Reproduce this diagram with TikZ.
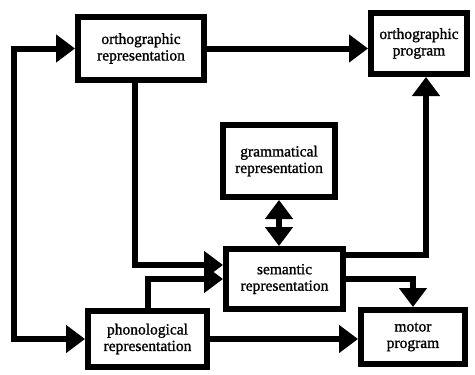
\documentclass[tikz,border=0pt]{standalone}
\usepackage{fontspec}
\setmainfont{Liberation Serif}[AutoFakeBold=1.2]
\usetikzlibrary{arrows.meta}
\begin{document}
\begin{tikzpicture}[x=1pt,y=-1pt,
  stage/.style={draw,line width=6pt,align=center,inner sep=0pt,
    font=\fontsize{15.5}{16.5}\selectfont\bfseries},
  link/.style={line width=6pt,-{Triangle[length=19pt,width=27pt]}},
  twoway/.style={line width=6pt,{Triangle[length=19pt,width=27pt]}-{Triangle[length=19pt,width=27pt]}}]
\useasboundingbox (0,0) rectangle (475,375);
% modules
\node[stage,minimum width=126pt,minimum height=63pt] (orep) at (141,48.5) {orthographic\\representation};
\node[stage,minimum width=96pt,minimum height=61pt] (oprog) at (419,43.5) {orthographic\\program};
\node[stage,minimum width=112pt,minimum height=72pt] (gram) at (279,161) {grammatical\\representation};
\node[stage,minimum width=117pt,minimum height=60pt] (sem) at (284.5,279) {semantic\\representation};
\node[stage,minimum width=119pt,minimum height=56pt] (phon) at (147.5,339) {phonological\\representation};
\node[stage,minimum width=104pt,minimum height=54pt] (motor) at (413,337) {motor\\program};
\coordinate (loop) at (14,0);
% connections
\draw[link] (orep.east) -- (orep.east -| oprog.west);
\draw[twoway] (phon.west) -- (phon.west -| loop) -- (orep.west -| loop) -- (orep.west);
\draw[link] ([xshift=-6pt]orep.south) |- ([yshift=14pt]sem.west);
\draw[link] (phon.north) |- (sem.west);
\draw[twoway] (gram.south) -- (gram.south |- sem.north);
\draw[link] ([yshift=24pt]sem.east) -| ([xshift=7pt]oprog.south);
\draw[link] (sem.east) -| (motor.north);
\draw[link] (phon.east) -- (phon.east -| motor.west);
\end{tikzpicture}
\end{document}
